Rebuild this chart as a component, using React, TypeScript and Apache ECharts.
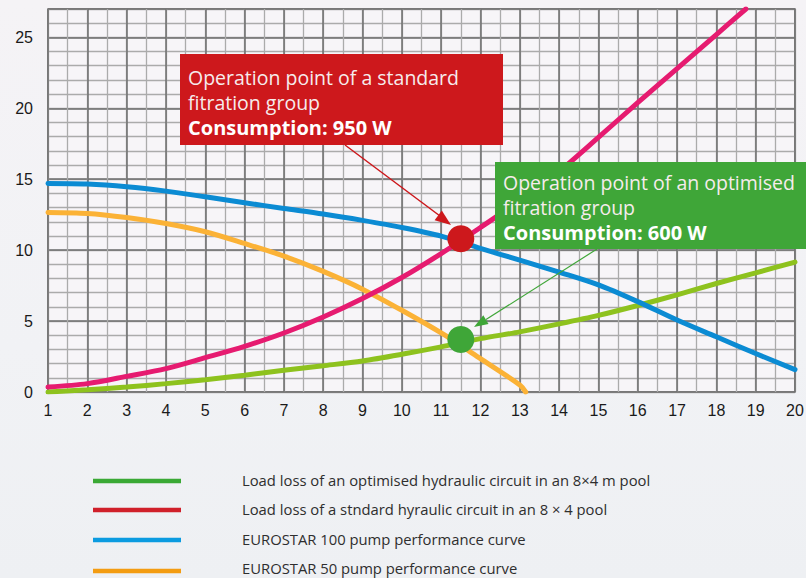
import React, { useEffect, useRef } from "react";
import * as echarts from "echarts";

// ---- data ----
const xMin = 1;
const xMax = 20;
const yMin = 0;
const yMax = 27;

const standardLoss: [number, number][] = [
  [1, 0.35], [2, 0.59], [3, 1.1], [4, 1.65], [5, 2.42], [6, 3.22], [7, 4.16],
  [8, 5.29], [9, 6.59], [10, 8.07], [11, 9.76], [12, 11.6], [13, 13.5],
  [14, 15.55], [15, 17.95], [16, 20.4], [17, 22.8], [18, 25.2], [18.75, 27],
];
const optimisedLoss: [number, number][] = [
  [1, 0], [2, 0.16], [3, 0.35], [4, 0.59], [5, 0.87], [6, 1.18], [7, 1.53],
  [8, 1.85], [9, 2.19], [10, 2.66], [11, 3.18], [12, 3.76], [13, 4.24],
  [14, 4.8], [15, 5.4], [16, 6.1], [17, 6.85], [18, 7.65], [19, 8.4], [20, 9.16],
];
const eurostar100: [number, number][] = [
  [1, 14.7], [2, 14.66], [3, 14.47], [4, 14.16], [5, 13.76], [6, 13.34],
  [7, 12.94], [8, 12.55], [9, 12.1], [10, 11.6], [11, 10.99], [12, 10.12],
  [13, 9.3], [14, 8.45], [15, 7.55], [16, 6.37], [17, 5.07], [18, 3.89],
  [19, 2.71], [20, 1.58],
];
const eurostar50: [number, number][] = [
  [1, 12.66], [2, 12.59], [3, 12.3], [4, 11.88], [5, 11.3], [6, 10.47],
  [7, 9.58], [8, 8.5], [9, 7.25], [10, 5.76], [11, 4.16], [12, 2.35],
  [13, 0.5], [13.15, 0],
];
const standardPoint: [number, number][] = [[11.5, 10.8]];
const optimisedPoint: [number, number][] = [[11.5, 3.7]];

const legendLabels = [
  "Load loss of an optimised hydraulic circuit in an 8×4 m pool",
  "Load loss of a stndard hyraulic circuit in an 8 × 4 pool",
  "EUROSTAR 100 pump performance curve",
  "EUROSTAR 50 pump performance curve",
];
const legendColors = ["#3aa935", "#d0202a", "#0b9be0", "#f39c12"];

const redBoxLines = ["Operation point of a standard", "fitration group", "Consumption: 950 W"];
const greenBoxLines = ["Operation point of an optimised", "fitration group", "Consumption: 600 W"];

const FONT = "'Open Sans', 'DejaVu Sans', sans-serif";
const AXIS_FONT = "'Liberation Sans', Arial, sans-serif";

export default function App() {
  const ref = useRef<HTMLDivElement>(null);

  useEffect(() => {
    if (!ref.current) return;
    const chart = echarts.init(ref.current, null, { renderer: "svg" });

    const light = { lineStyle: { color: "#ababab", width: 1.3 } };
    const dark = { lineStyle: { color: "#6e6e6e", width: 1.5 } };

    const lineSeries = (name: string, data: [number, number][], color: string) => ({
      name,
      type: "line",
      data,
      xAxisIndex: 1,
      yAxisIndex: 1,
      smooth: 0.3,
      symbol: "none",
      lineStyle: { color, width: 5, cap: "round" },
      z: 5,
    });

    const boxText = (lines: string[], x: number, y0: number) =>
      lines.map((t, i) => ({
        type: "text",
        x,
        y: y0 + i * 25,
        z: 100,
        style: {
          text: t,
          fill: i === 2 ? "#ffffff" : "#f6ecec",
          font: i === 2 ? `bold 20px ${FONT}` : `19.5px ${FONT}`,
          verticalAlign: "middle",
        },
      }));

    const graphics: any[] = [
      // red box
      { type: "rect", z: 90, shape: { x: 180, y: 54, width: 323, height: 91 }, style: { fill: "#cd181c" } },
      ...boxText(redBoxLines, 188, 77),
      // green box
      { type: "rect", z: 90, shape: { x: 495, y: 162, width: 320, height: 87 }, style: { fill: "#3fa638" } },
      ...boxText(greenBoxLines, 503, 182),
      // red arrow
      { type: "line", z: 95, shape: { x1: 345, y1: 145, x2: 440, y2: 216 }, style: { stroke: "#cd181c", lineWidth: 1.5 } },
      { type: "polygon", z: 95, shape: { points: [[451, 225], [434.6, 220.2], [441.8, 210.6]] }, style: { fill: "#cd181c" } },
      // green arrow
      { type: "line", z: 95, shape: { x1: 597, y1: 249, x2: 486, y2: 319.6 }, style: { stroke: "#3fa638", lineWidth: 1.2 } },
      { type: "polygon", z: 95, shape: { points: [[474, 327], [483.3, 315.3], [488.5, 323.9]] }, style: { fill: "#3fa638" } },
    ];

    const legendYs = [481, 510, 540, 571];
    const textYs = [480, 509, 539, 568];
    legendLabels.forEach((lab, i) => {
      graphics.push({
        type: "line",
        shape: { x1: 93, y1: legendYs[i], x2: 181, y2: legendYs[i] },
        style: { stroke: legendColors[i], lineWidth: 4.5 },
      });
      graphics.push({
        type: "text",
        x: 242,
        y: textYs[i],
        style: { text: lab, fill: "#2e2e2e", font: `14.8px ${FONT}`, verticalAlign: "middle" },
      });
    });

    chart.setOption({
      animation: false,
      backgroundColor: "transparent",
      grid: {
        left: 48,
        right: 11,
        top: 9,
        bottom: 186,
        show: true,
        containLabel: false,
        outerBoundsMode: "none",
        backgroundColor: "#f7f5f8",
        borderColor: "#6e6e6e",
        borderWidth: 1.5,
      },
      xAxis: [
        {
          type: "value", min: xMin, max: xMax, interval: 0.5, position: "bottom",
          axisLabel: { show: false }, axisLine: { show: false }, axisTick: { show: false },
          splitLine: { show: true, ...light },
        },
        {
          type: "value", min: xMin, max: xMax, interval: 1, position: "bottom",
          axisLine: { show: false }, axisTick: { show: false },
          axisLabel: { color: "#1a1a1a", fontSize: 16, fontFamily: AXIS_FONT, margin: 10 },
          splitLine: { show: true, ...dark },
        },
      ],
      yAxis: [
        {
          type: "value", min: yMin, max: yMax, interval: 1, position: "left",
          axisLabel: { show: false }, axisLine: { show: false }, axisTick: { show: false },
          splitLine: { show: true, ...light },
        },
        {
          type: "value", min: yMin, max: yMax, interval: 5, position: "left",
          axisLine: { show: false }, axisTick: { show: false },
          axisLabel: {
            color: "#1a1a1a", fontSize: 16, fontFamily: AXIS_FONT, margin: 15,
            showMaxLabel: false,
            formatter: (v: number) => (v % 5 === 0 ? String(v) : ""),
          },
          splitLine: { show: true, ...dark },
        },
      ],
      series: [
        lineSeries("Load loss of an optimised hydraulic circuit", optimisedLoss, "#8ec21e"),
        lineSeries("EUROSTAR 50", eurostar50, "#fbb236"),
        lineSeries("EUROSTAR 100", eurostar100, "#0b8bd3"),
        lineSeries("Load loss of a standard hydraulic circuit", standardLoss, "#e61b70"),
        {
          type: "scatter", xAxisIndex: 1, yAxisIndex: 1, data: standardPoint,
          symbolSize: 27, itemStyle: { color: "#cd181c", opacity: 1 }, z: 10,
        },
        {
          type: "scatter", xAxisIndex: 1, yAxisIndex: 1, data: optimisedPoint,
          symbolSize: 27, itemStyle: { color: "#3fa638", opacity: 1 }, z: 10,
        },
      ],
      graphic: graphics,
    });

    return () => chart.dispose();
  }, []);

  return (
    <div
      style={{
        position: "fixed",
        left: 0,
        top: 0,
        width: 806,
        height: 578,
        background: "linear-gradient(180deg, #f5f3f6 0%, #f1f2f5 60%, #eef0f3 100%)",
      }}
    >
      <div ref={ref} style={{ width: 806, height: 578 }} />
    </div>
  );
}
